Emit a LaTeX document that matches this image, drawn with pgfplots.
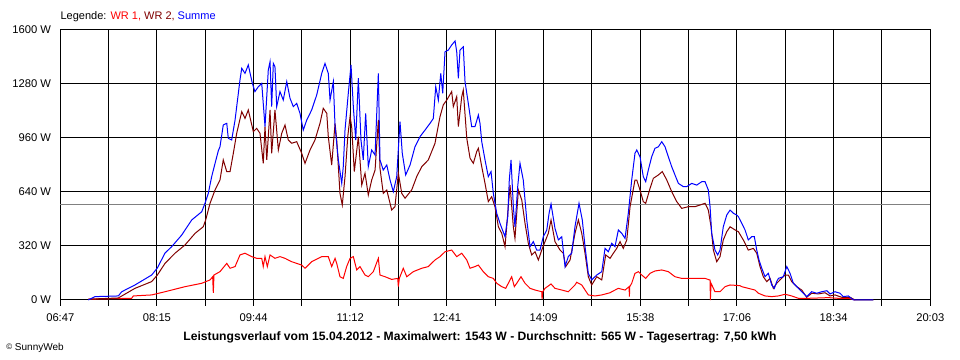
\documentclass[border=0pt]{standalone}
\usepackage{pgfplots}
\pgfplotsset{compat=1.18}
\usepackage{fontspec}
\setmainfont{Liberation Sans}
\definecolor{wrone}{HTML}{FF0000}
\definecolor{wrtwo}{HTML}{800000}
\definecolor{summe}{HTML}{0000FF}
\definecolor{avg}{HTML}{808080}
\begin{document}
\begin{tikzpicture}
\useasboundingbox (-45.225pt,-45pt) rectangle (674.775pt,225pt);
\begin{axis}[
  scale only axis,
  width=652.5pt, height=202.5pt,
  xmin=407, xmax=1203, ymin=0, ymax=1600,
  axis line style={black, line width=0.75pt},
  xtick={407,451.222,495.444,539.667,583.889,628.111,672.333,716.556,760.778,805,849.222,893.444,937.667,981.889,1026.111,1070.333,1114.556,1158.778,1203},
  xticklabels={06:47,,08:15,,09:44,,11:12,,12:41,,14:09,,15:38,,17:06,,18:34,,20:03},
  ytick={0,320,640,960,1280,1600},
  yticklabels={0 W,320 W,640 W,960 W,1280 W,1600 W},
  xtick pos=bottom, ytick pos=left,
  tick align=outside,
  major tick length=4.5pt,
  xtick style={black, line width=0.75pt},
  ytick style={draw=none},
  grid=major,
  major grid style={black, line width=0.75pt},
  tick label style={font=\fontsize{8.4pt}{10pt}\selectfont, text=black},
  yticklabel style={anchor=east, xshift=1pt},
  xticklabel style={yshift=-2pt},
  clip=false,
]
\addplot[avg, line width=0.75pt] coordinates {(407,565) (1203,565)};
\addplot[wrone, line width=0.75pt] table[row sep=\\] {
x y\\
432.6 5\\ 472.3 10\\ 473.8 24\\ 490.6 30\\ 502.8 49\\ 521.1 79\\ 536.4 99\\ 544 119\\ 546.4 138\\ 547 43\\ 547.6 148\\ 553.1 168\\ 559.3 217\\ 562.3 188\\ 566.9 198\\ 571.4 267\\ 576 277\\ 582.1 257\\ 586.7 247\\ 591.3 247\\ 592.7 198\\ 594.3 257\\ 596.4 198\\ 598.9 267\\ 603.4 247\\ 608 257\\ 612.6 247\\ 618.7 227\\ 627.9 207\\ 630.9 188\\ 637 227\\ 646.2 257\\ 652.2 257\\ 655.3 198\\ 658.4 247\\ 659.9 217\\ 662.9 138\\ 665.9 128\\ 669 198\\ 672.1 247\\ 675.1 257\\ 678.2 178\\ 681.2 198\\ 685.8 148\\ 688.8 138\\ 693.4 168\\ 698 247\\ 699.5 148\\ 704.1 138\\ 710.2 122\\ 715.7 128\\ 716.3 79\\ 717.2 128\\ 720.8 188\\ 724 138\\ 730 168\\ 737.7 188\\ 743.7 198\\ 749.8 237\\ 754.4 257\\ 759 286\\ 765.1 296\\ 769.7 257\\ 774.3 277\\ 778.9 237\\ 781.9 188\\ 786.4 198\\ 789.5 207\\ 794 168\\ 798.6 138\\ 803.2 128\\ 806.3 99\\ 810.9 79\\ 814.5 69\\ 816.9 99\\ 820 138\\ 822.4 79\\ 824.6 99\\ 828.5 138\\ 832.2 99\\ 836.8 69\\ 841.4 59\\ 847.5 49\\ 847.8 5\\ 848.4 49\\ 850.5 69\\ 856 95\\ 859.6 69\\ 865.8 59\\ 871.8 49\\ 877.9 89\\ 879.5 105\\ 884.1 89\\ 890.1 30\\ 896.2 24\\ 902.4 30\\ 910 43\\ 911.5 49\\ 917.6 69\\ 923.7 59\\ 927.4 79\\ 927.7 20\\ 928 79\\ 929.8 99\\ 932.8 158\\ 935.9 168\\ 939 148\\ 942.6 128\\ 946.6 158\\ 951.1 172\\ 957.3 178\\ 963.3 168\\ 969.4 138\\ 975.6 128\\ 984.7 128\\ 990.8 128\\ 996.9 128\\ 1001.5 118\\ 1001.8 0\\ 1002.4 99\\ 1006 49\\ 1010.6 49\\ 1015.2 79\\ 1019.8 89\\ 1028.9 85\\ 1030.5 79\\ 1036.5 69\\ 1042.6 59\\ 1045.7 40\\ 1051.8 24\\ 1057.9 20\\ 1064 24\\ 1070.1 34\\ 1076.2 24\\ 1082.3 10\\ 1091.4 10\\ 1109.7 14\\ 1118.9 10\\ 1128 10\\ 1134.2 0\\
};
\addplot[wrtwo, line width=0.75pt] table[row sep=\\] {
x y\\
432.6 5\\ 460.1 12\\ 475.3 69\\ 490.6 109\\ 495.8 148\\ 502.8 217\\ 511.9 277\\ 521.1 326\\ 530.3 395\\ 537.8 434\\ 540 474\\ 544 573\\ 548.6 652\\ 553.1 711\\ 556.1 830\\ 559.3 761\\ 562.3 761\\ 565.3 869\\ 568.4 988\\ 573 1116\\ 576 1076\\ 579 1126\\ 583.6 998\\ 586.7 1017\\ 589.7 988\\ 592.7 810\\ 594.3 1027\\ 595.9 830\\ 598.9 1126\\ 600.4 869\\ 603.4 1126\\ 606.5 889\\ 609.6 988\\ 612.6 1037\\ 615.6 948\\ 618.7 929\\ 623.3 938\\ 627.9 869\\ 630.9 810\\ 635.5 889\\ 640 948\\ 644.6 1047\\ 647.6 1136\\ 650.8 1106\\ 652.2 968\\ 655.3 800\\ 658.4 1047\\ 659.9 948\\ 662.9 632\\ 665 563\\ 667.5 731\\ 670 968\\ 672.1 1086\\ 673.6 1027\\ 676 761\\ 679.7 968\\ 682.8 681\\ 685.8 751\\ 688.8 622\\ 691.9 711\\ 695 770\\ 698 1067\\ 699.5 780\\ 702.5 632\\ 705.7 652\\ 710.2 533\\ 713.2 553\\ 716.3 751\\ 719.4 632\\ 722.4 603\\ 728.5 652\\ 733.1 731\\ 737.7 790\\ 743.7 830\\ 749.8 928\\ 754.4 1086\\ 757.4 1156\\ 760.6 1185\\ 765.1 1235\\ 766.6 1146\\ 769.7 1205\\ 771.2 1027\\ 774.3 1205\\ 775.7 1244\\ 778.9 958\\ 781.9 840\\ 784.9 810\\ 788 879\\ 789.5 899\\ 792.6 790\\ 795.6 691\\ 798.6 583\\ 801.7 612\\ 804.7 553\\ 807.8 434\\ 810.9 395\\ 813.9 316\\ 816.9 553\\ 818.5 681\\ 821.5 434\\ 823 365\\ 826.1 652\\ 829.2 593\\ 832.2 454\\ 835.2 336\\ 838.3 267\\ 841.4 286\\ 844.4 237\\ 847.5 296\\ 850.5 346\\ 853.5 395\\ 856 474\\ 859.6 346\\ 864.2 296\\ 867.2 277\\ 869.4 198\\ 873.4 237\\ 877.9 395\\ 881 474\\ 884.1 395\\ 887.1 277\\ 890.1 138\\ 893.2 89\\ 897.8 138\\ 902.4 119\\ 906 267\\ 910 247\\ 913 277\\ 916.1 306\\ 919.1 346\\ 922.1 306\\ 925.3 356\\ 928.3 553\\ 932.8 711\\ 934.4 711\\ 937.4 652\\ 940.4 583\\ 942.6 573\\ 946.6 662\\ 949.6 721\\ 954.2 741\\ 957.8 761\\ 961.9 711\\ 966.4 642\\ 971 583\\ 975.6 543\\ 981.6 553\\ 987.7 553\\ 992.3 563\\ 996.9 573\\ 999.9 533\\ 1002.4 434\\ 1004.5 296\\ 1007.6 227\\ 1010.6 257\\ 1013.6 356\\ 1016.8 405\\ 1019.8 434\\ 1024.4 415\\ 1027.4 405\\ 1031.9 356\\ 1036.5 296\\ 1041.1 306\\ 1044.2 277\\ 1047.2 198\\ 1050.2 138\\ 1053.4 109\\ 1056.4 128\\ 1059.4 69\\ 1062.5 99\\ 1065.5 119\\ 1070.1 148\\ 1073.1 148\\ 1076.2 109\\ 1080.8 79\\ 1085.4 59\\ 1089.9 16\\ 1094.5 40\\ 1100.6 36\\ 1106.7 43\\ 1111.3 24\\ 1115.8 30\\ 1122 16\\ 1129.6 16\\ 1134.2 0\\ 1150.9 0\\
};
\addplot[summe, line width=0.75pt] table[row sep=\\] {
x y\\
432.6 0\\ 438.8 20\\ 460.1 24\\ 463.2 49\\ 475.3 89\\ 490.6 148\\ 495.8 190\\ 502.8 278\\ 508.9 316\\ 518.1 385\\ 527.2 474\\ 536.4 523\\ 539.4 573\\ 542.4 632\\ 545.5 731\\ 548.6 810\\ 551.6 885\\ 553.1 908\\ 556.1 1037\\ 559.3 1047\\ 560.7 958\\ 563.8 948\\ 566.9 1067\\ 571.4 1304\\ 573 1373\\ 576 1343\\ 579 1393\\ 582.7 1284\\ 585.1 1235\\ 588.2 1264\\ 591.3 1284\\ 594.3 1027\\ 597.3 1363\\ 598.9 1412\\ 600.4 1146\\ 601.9 1402\\ 603.4 1383\\ 605 1146\\ 608 1235\\ 611 1185\\ 614.2 1294\\ 617.2 1195\\ 620.2 1146\\ 623.3 1165\\ 626.3 1106\\ 629.3 1007\\ 632.5 1067\\ 637 1126\\ 641.6 1215\\ 646.2 1343\\ 649.2 1402\\ 652.2 1343\\ 653.8 1185\\ 656.8 1294\\ 658.4 1027\\ 661.4 830\\ 664.5 691\\ 665.9 790\\ 667.5 1007\\ 670.5 1225\\ 673 1393\\ 675.1 1146\\ 677.3 948\\ 679.7 1314\\ 682.1 948\\ 684.2 830\\ 686.4 1106\\ 688.8 790\\ 691.9 889\\ 695 859\\ 698 1343\\ 699.5 830\\ 702.5 770\\ 705.7 800\\ 708.7 711\\ 711.7 642\\ 714.8 731\\ 717.8 1057\\ 719.9 869\\ 723 741\\ 727 800\\ 731.5 908\\ 736.1 968\\ 740.7 1007\\ 745.3 1047\\ 748.3 1076\\ 750.5 1264\\ 752.9 1185\\ 755.1 1343\\ 756.9 1225\\ 759 1471\\ 762 1481\\ 765.1 1511\\ 768.2 1535\\ 769.7 1471\\ 771.2 1314\\ 772.7 1481\\ 775.7 1501\\ 777.3 1294\\ 780.3 1165\\ 783.4 1027\\ 786.4 1027\\ 789.5 1096\\ 791 1047\\ 792.6 938\\ 795.6 830\\ 798.6 731\\ 801.1 761\\ 803.2 632\\ 806.3 514\\ 809.3 454\\ 813.9 375\\ 816.4 494\\ 817.8 711\\ 819.4 830\\ 821.5 553\\ 823 434\\ 825.5 672\\ 827.6 810\\ 830.6 711\\ 833.8 474\\ 836.8 316\\ 839.8 346\\ 842.9 296\\ 845.9 296\\ 848.9 375\\ 852.1 415\\ 854.2 514\\ 856 569\\ 859.6 425\\ 862.7 356\\ 865.8 375\\ 868.8 198\\ 871.8 257\\ 874.9 277\\ 877.9 434\\ 881.6 573\\ 884.6 474\\ 887.1 316\\ 890.1 158\\ 893.2 119\\ 897.8 148\\ 902.4 168\\ 905.4 306\\ 908.4 286\\ 911.5 336\\ 914.5 316\\ 917.6 415\\ 920.7 395\\ 923.7 365\\ 926.7 514\\ 929.8 711\\ 932.8 869\\ 934.4 889\\ 937.4 849\\ 940.4 731\\ 942.6 701\\ 945 770\\ 948.1 849\\ 951.1 899\\ 954.2 908\\ 957.3 938\\ 960.3 908\\ 963.3 849\\ 966.4 790\\ 969.4 741\\ 972.5 691\\ 977 672\\ 980.2 672\\ 984.7 691\\ 989.3 681\\ 993.9 701\\ 996.9 701\\ 999.9 652\\ 1001.5 553\\ 1003 395\\ 1006 296\\ 1008.5 267\\ 1010.6 296\\ 1013.6 434\\ 1016.8 504\\ 1019.8 533\\ 1022.8 514\\ 1025.9 504\\ 1027.4 494\\ 1030.5 454\\ 1033.5 415\\ 1036.5 356\\ 1039.6 375\\ 1042 375\\ 1044.2 296\\ 1046.3 237\\ 1048.8 188\\ 1051.8 138\\ 1054.8 158\\ 1057.9 89\\ 1060.3 69\\ 1062.5 109\\ 1064 128\\ 1068.5 138\\ 1071.7 198\\ 1074.7 158\\ 1077.7 99\\ 1080.8 79\\ 1083.8 59\\ 1086.8 40\\ 1089.9 20\\ 1094.5 49\\ 1099.1 40\\ 1103.7 49\\ 1108.3 55\\ 1111.3 36\\ 1115.8 49\\ 1120.4 40\\ 1123.4 20\\ 1128 24\\ 1132.6 0\\ 1150.9 0\\
};
\end{axis}
\node[anchor=west, inner sep=0pt, font=\fontsize{8.25pt}{10pt}\selectfont] at (0pt,212.6pt)
  {Legende: \textcolor{wrone}{WR 1,} \textcolor{wrtwo}{WR 2,} \textcolor{summe}{Summe}};
\node[inner sep=0pt, font=\fontsize{9.1pt}{11pt}\selectfont\bfseries] at (314.8pt,-28pt)
  {Leistungsverlauf vom 15.04.2012 - Maximalwert: 1543 W - Durchschnitt: 565 W - Tagesertrag: 7,50 kWh};
\node[anchor=west, inner sep=0pt, font=\fontsize{7.5pt}{9pt}\selectfont] at (-40.7pt,-36pt)
  {\raisebox{0.15ex}{\fontsize{6pt}{7pt}\selectfont\textcopyright} SunnyWeb};
\end{tikzpicture}
\end{document}
